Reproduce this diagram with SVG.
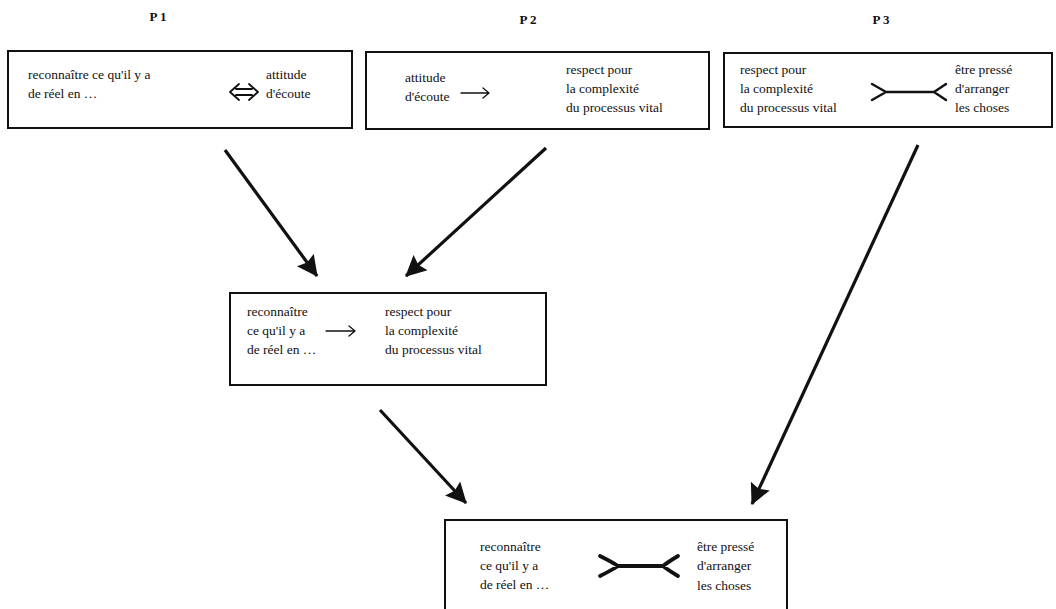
<svg xmlns="http://www.w3.org/2000/svg" width="1056" height="609" viewBox="0 0 1056 609">
<defs>
<style>
.box{fill:#fff;stroke:#111;stroke-width:2}
.t{font-family:"Liberation Serif","Times New Roman",serif;font-size:13.5px;fill:#111}
.h{font-family:"Liberation Serif","Times New Roman",serif;font-size:13px;font-weight:bold;fill:#111}
.conn{stroke:#111;stroke-width:3.2;fill:none}
.sym{stroke:#111;fill:none;stroke-linecap:round;stroke-linejoin:round}
</style>
<marker id="ah" viewBox="0 0 10 10" refX="9.5" refY="5" markerWidth="7" markerHeight="6.5" markerUnits="strokeWidth" orient="auto">
<path d="M0,0 L10,5 L0,10 L1.5,5 Z" fill="#111"/>
</marker>
</defs>
<rect width="1056" height="609" fill="#fff"/>
<g id="headers">
<text class="h" x="158" y="21" text-anchor="middle">P 1</text>
<text class="h" x="528" y="24" text-anchor="middle">P 2</text>
<text class="h" x="881" y="24" text-anchor="middle">P 3</text>
</g>
<g id="node-p1">
<rect class="box" x="8" y="51" width="344" height="77"/>
<text class="t" x="28" y="79">reconnaître ce qu'il y a</text>
<text class="t" x="28" y="98">de réel en …</text>
<text class="t" x="266" y="79">attitude</text>
<text class="t" x="266" y="98">d'écoute</text>
<path class="sym" stroke-width="1.8" d="M236,89 H252 M236,95 H252 M239,84 L230,92 L239,100 M249,84 L258,92 L249,100"/>
</g>
<g id="node-p2">
<rect class="box" x="366" y="52" width="343" height="77"/>
<text class="t" x="405" y="82">attitude</text>
<text class="t" x="405" y="101">d'écoute</text>
<path class="sym" stroke-width="1.3" d="M461,93 H489 M483,88 L489,93 L483,98"/>
<text class="t" x="566" y="74">respect pour</text>
<text class="t" x="566" y="93">la complexité</text>
<text class="t" x="566" y="112">du processus vital</text>
</g>
<g id="node-p3">
<rect class="box" x="724" y="53" width="328" height="74"/>
<text class="t" x="740" y="74">respect pour</text>
<text class="t" x="740" y="93">la complexité</text>
<text class="t" x="740" y="112">du processus vital</text>
<path class="sym" stroke-width="2.4" d="M872,84 L886,92 L872,100 M886,92 H934 M946,84 L934,92 L946,100"/>
<text class="t" x="955" y="74">être pressé</text>
<text class="t" x="955" y="93">d'arranger</text>
<text class="t" x="955" y="112">les choses</text>
</g>
<g id="node-mid">
<rect class="box" x="230" y="293" width="316" height="92"/>
<text class="t" x="247" y="316">reconnaître</text>
<text class="t" x="247" y="335">ce qu'il y a</text>
<text class="t" x="247" y="354">de réel en …</text>
<path class="sym" stroke-width="1.3" d="M326,331 H355 M349,326 L355,331 L349,336"/>
<text class="t" x="385" y="316">respect pour</text>
<text class="t" x="385" y="335">la complexité</text>
<text class="t" x="385" y="354">du processus vital</text>
</g>
<g id="node-bottom">
<rect class="box" x="445" y="520" width="342" height="95"/>
<text class="t" x="480" y="551">reconnaître</text>
<text class="t" x="480" y="570">ce qu'il y a</text>
<text class="t" x="480" y="589">de réel en …</text>
<path class="sym" stroke-width="3.8" d="M600,556 Q612,562 618,566 Q612,570 600,576 M618,566 H663 M678,556 Q668,562 663,566 Q668,570 678,576"/>
<text class="t" x="697" y="551">être pressé</text>
<text class="t" x="697" y="570">d'arranger</text>
<text class="t" x="697" y="590">les choses</text>
</g>
<g id="connectors">
<line class="conn" x1="225" y1="150" x2="317" y2="276" marker-end="url(#ah)"/>
<line class="conn" x1="546" y1="148" x2="406" y2="276" marker-end="url(#ah)"/>
<line class="conn" x1="918" y1="145" x2="752" y2="504" marker-end="url(#ah)"/>
<line class="conn" x1="380" y1="410" x2="466" y2="503" marker-end="url(#ah)"/>
</g>
</svg>
